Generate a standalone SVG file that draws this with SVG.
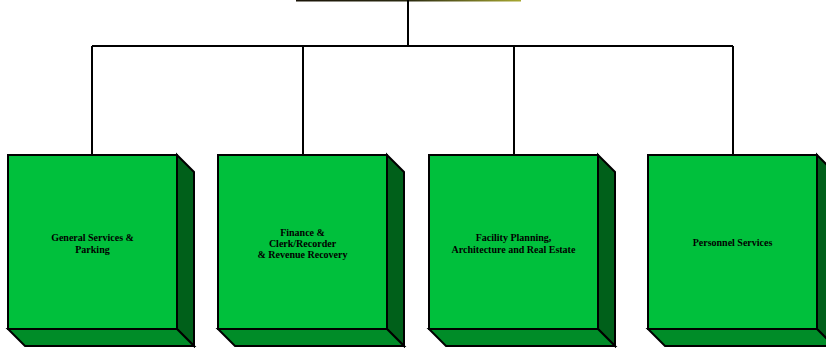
<svg xmlns="http://www.w3.org/2000/svg" width="826" height="348" viewBox="0 0 826 348">
<defs>
<linearGradient id="topband" x1="0" y1="0" x2="1" y2="0">
<stop offset="0" stop-color="#1a1408"/>
<stop offset="0.5" stop-color="#2a2a10"/>
<stop offset="1" stop-color="#a8a830"/>
</linearGradient>
</defs>
<style>
.front{fill:#00c03c;stroke:#000;stroke-width:2;stroke-linejoin:miter}
.side{fill:#00601a;stroke:#000;stroke-width:2;stroke-linejoin:miter}
.bottom{fill:#008c28;stroke:#000;stroke-width:2;stroke-linejoin:miter}
.conn{fill:none;stroke:#000;stroke-width:2}
.lbl{font-family:"Liberation Serif","Times New Roman",serif;font-weight:bold;font-size:10px;fill:#000;text-anchor:middle}
</style>
<rect x="296" y="0" width="225" height="1.5" fill="url(#topband)"/>
<g id="connectors">
<path class="conn" d="M408,0 V46 M92,46 H733 M92,46 V155 M303,46 V155 M514,46 V155 M733,46 V155"/>
</g>
<g id="node-general-services">
<polygon class="side" points="177,155 194,172 194,346 177,329"/>
<polygon class="bottom" points="8,329 177,329 194,346 25,346"/>
<rect class="front" x="8" y="155" width="169" height="174"/>
<text class="lbl" x="92.5" y="240.5">General Services &amp;</text>
<text class="lbl" x="92.5" y="252.5">Parking</text>
</g>
<g id="node-finance">
<polygon class="side" points="387,155 404,172 404,346 387,329"/>
<polygon class="bottom" points="218,329 387,329 404,346 235,346"/>
<rect class="front" x="218" y="155" width="169" height="174"/>
<text class="lbl" x="302.5" y="236">Finance &amp;</text>
<text class="lbl" x="302.5" y="247">Clerk/Recorder</text>
<text class="lbl" x="302.5" y="258">&amp; Revenue Recovery</text>
</g>
<g id="node-facility">
<polygon class="side" points="598,155 615,172 615,346 598,329"/>
<polygon class="bottom" points="429,329 598,329 615,346 446,346"/>
<rect class="front" x="429" y="155" width="169" height="174"/>
<text class="lbl" x="513.5" y="241">Facility Planning,</text>
<text class="lbl" x="513.5" y="252.5">Architecture and Real Estate</text>
</g>
<g id="node-personnel">
<polygon class="side" points="817,155 834,172 834,346 817,329"/>
<polygon class="bottom" points="648,329 817,329 834,346 665,346"/>
<rect class="front" x="648" y="155" width="169" height="174"/>
<text class="lbl" x="732.5" y="246">Personnel Services</text>
</g>
</svg>
